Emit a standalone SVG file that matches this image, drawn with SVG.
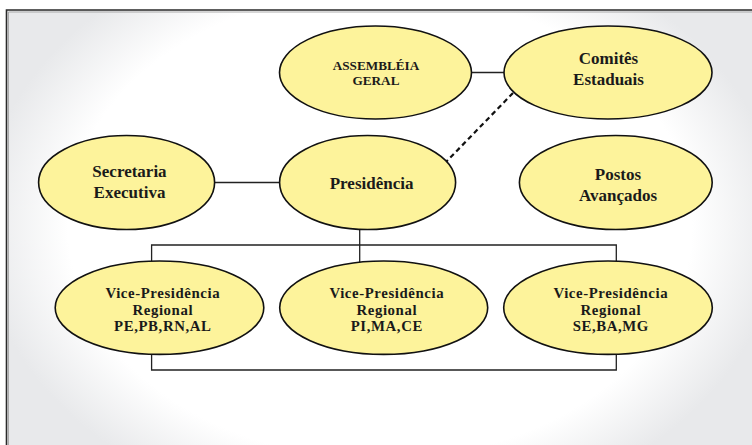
<svg xmlns="http://www.w3.org/2000/svg" width="752" height="445" viewBox="0 0 752 445">
<defs>
<radialGradient id="bg" gradientUnits="userSpaceOnUse" cx="380" cy="225" r="400" gradientTransform="translate(380 225) scale(1 0.75) translate(-380 -225)">
<stop offset="0" stop-color="#ffffff"/>
<stop offset="0.78" stop-color="#ffffff"/>
<stop offset="1" stop-color="#e8e9eb"/>
</radialGradient>
</defs>
<style>
.n ellipse{fill:#fdf39b;stroke:#111;stroke-width:1.6}
.n text{font-family:"Liberation Serif","DejaVu Serif",serif;font-weight:bold;fill:#1a1a1a;text-anchor:middle}
.t17{font-size:17px}
.t16{font-size:14.8px;letter-spacing:0.6px}
.t12{font-size:13.2px}
.c path{fill:none;stroke:#222;stroke-width:1.3}
.c .d{stroke-width:2.2;stroke-dasharray:5 3.5;stroke:#111}
</style>
<rect width="752" height="445" fill="#ffffff"/>
<rect x="6" y="10" width="746" height="435" fill="url(#bg)"/>
<path d="M6.5,445 V10 H752" fill="none" stroke="#2a2a2a" stroke-width="1.6"/>
<path d="M8.5,445 V12 H752" fill="none" stroke="#9a9a9a" stroke-width="0.8"/>
<g id="connectors" class="c">
<path d="M471,72.5 H504"/>
<path d="M214,182.5 H280"/>
<path class="d" d="M513,93 L446,162"/>
<path d="M359.7,229 V263"/>
<path d="M151.6,262 V245 H616.3 V262"/>
<path d="M151.6,353 V370 H616.3 V353"/>
</g>
<g id="assembleia" class="n">
<ellipse cx="375.5" cy="72.5" rx="96" ry="46.5"/>
<text class="t12" x="376" y="70">ASSEMBLÉIA</text>
<text class="t12" x="376" y="85">GERAL</text>
</g>
<g id="comites" class="n">
<ellipse cx="608" cy="72.5" rx="104" ry="46.5"/>
<text class="t17" x="608.5" y="63.5">Comitês</text>
<text class="t17" x="608.5" y="84.5">Estaduais</text>
</g>
<g id="secretaria" class="n">
<ellipse cx="126.6" cy="182.5" rx="88" ry="47"/>
<text class="t17" x="129.5" y="176.5">Secretaria</text>
<text class="t17" x="129.5" y="197.8">Executiva</text>
</g>
<g id="presidencia" class="n">
<ellipse cx="367.6" cy="182.5" rx="88" ry="47"/>
<text class="t17" x="371.6" y="189.3">Presidência</text>
</g>
<g id="postos" class="n">
<ellipse cx="615.8" cy="182.5" rx="96.4" ry="47"/>
<text class="t17" x="618" y="180">Postos</text>
<text class="t17" x="618" y="201">Avançados</text>
</g>
<g id="vp1" class="n">
<ellipse cx="159.5" cy="307.7" rx="104.3" ry="46.7"/>
<text class="t16" x="162.8" y="298">Vice-Presidência</text>
<text class="t16" x="162.8" y="314.5">Regional</text>
<text class="t16" x="162.8" y="331">PE,PB,RN,AL</text>
</g>
<g id="vp2" class="n">
<ellipse cx="383.7" cy="307.7" rx="104" ry="46.7"/>
<text class="t16" x="386.8" y="298">Vice-Presidência</text>
<text class="t16" x="386.8" y="314.5">Regional</text>
<text class="t16" x="386.8" y="331">PI,MA,CE</text>
</g>
<g id="vp3" class="n">
<ellipse cx="608" cy="307.7" rx="104.3" ry="46.7"/>
<text class="t16" x="610.8" y="298">Vice-Presidência</text>
<text class="t16" x="610.8" y="314.5">Regional</text>
<text class="t16" x="610.8" y="331">SE,BA,MG</text>
</g>
</svg>
